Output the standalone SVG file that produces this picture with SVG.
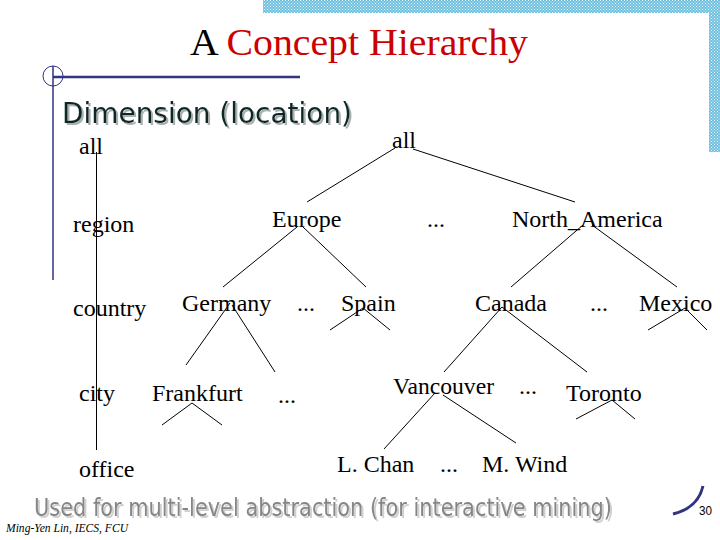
<svg xmlns="http://www.w3.org/2000/svg" width="720" height="540" viewBox="0 0 720 540">
<defs>
<pattern id="dots" width="3" height="3" patternUnits="userSpaceOnUse">
<rect width="3" height="3" fill="#6fc0df"/>
<rect x="0" y="0" width="1" height="1" fill="#e8f7fc"/>
<rect x="1.5" y="1.5" width="1" height="1" fill="#e8f7fc"/>
</pattern>
<filter id="shadowDark" x="-5%" y="-20%" width="115%" height="150%">
<feDropShadow dx="2" dy="2" stdDeviation="0.3" flood-color="#a8b0b0" flood-opacity="1"/>
</filter>
<filter id="shadowLight" x="-5%" y="-20%" width="115%" height="150%">
<feDropShadow dx="2" dy="2" stdDeviation="0.3" flood-color="#d0d0d0" flood-opacity="1"/>
</filter>
<style>
.t{font-family:"Liberation Serif","Times New Roman",serif;font-size:24px;fill:#000}
.e{stroke:#000;stroke-width:1;fill:none}
.nav{stroke:#333380;fill:none}
</style>
</defs>
<rect width="720" height="540" fill="#fff"/>
<g id="frame">
<rect x="263" y="0" width="457" height="13" fill="url(#dots)"/>
<rect x="709" y="0" width="11" height="152" fill="url(#dots)"/>
<line class="nav" x1="53" y1="77" x2="300" y2="77" stroke-width="2.5"/>
<line class="nav" x1="53" y1="66" x2="53" y2="280" stroke-width="1.5"/>
<circle class="nav" cx="53" cy="76" r="10" stroke-width="1"/>
<path class="nav" d="M673,514 Q698,508 703,486" stroke-width="3"/>
</g>
<g id="title">
<text x="190" y="55" font-family="'Liberation Serif','Times New Roman',serif" font-size="38" textLength="338" lengthAdjust="spacingAndGlyphs"><tspan fill="#000">A </tspan><tspan fill="#cc0000">Concept Hierarchy</tspan></text>
</g>
<g id="subtitle">
<text x="62" y="123" font-family="'DejaVu Sans',Verdana,sans-serif" font-size="28" fill="#102828" filter="url(#shadowDark)" textLength="290" lengthAdjust="spacingAndGlyphs">Dimension (location)</text>
</g>
<g id="connectors">
<line class="e" x1="96.5" y1="152" x2="96.5" y2="450"/>
<line class="e" x1="395" y1="148" x2="307" y2="202"/>
<line class="e" x1="413" y1="149" x2="575" y2="202"/>
<line class="e" x1="297" y1="227" x2="223" y2="287"/>
<line class="e" x1="302" y1="226" x2="366" y2="287"/>
<line class="e" x1="583" y1="225" x2="511" y2="287"/>
<line class="e" x1="592" y1="225" x2="677" y2="287"/>
<line class="e" x1="230" y1="303" x2="186" y2="365"/>
<line class="e" x1="232" y1="305" x2="275" y2="372"/>
<line class="e" x1="363" y1="308" x2="330" y2="330"/>
<line class="e" x1="363" y1="308" x2="390" y2="330"/>
<line class="e" x1="502" y1="307" x2="444" y2="372"/>
<line class="e" x1="502" y1="307" x2="587" y2="372"/>
<line class="e" x1="685" y1="308" x2="648" y2="330"/>
<line class="e" x1="685" y1="308" x2="707" y2="330"/>
<line class="e" x1="192" y1="403" x2="162" y2="425"/>
<line class="e" x1="192" y1="403" x2="222" y2="425"/>
<line class="e" x1="435" y1="393" x2="384" y2="449"/>
<line class="e" x1="443" y1="395" x2="516" y2="443"/>
<line class="e" x1="612" y1="400" x2="576" y2="419"/>
<line class="e" x1="612" y1="400" x2="635" y2="419"/>
</g>
<g id="levels">
<text class="t" x="79" y="154">all</text>
<text class="t" x="73" y="232">region</text>
<text class="t" x="73" y="316">country</text>
<text class="t" x="79" y="401">city</text>
<text class="t" x="79" y="477">office</text>
</g>
<g id="n-all"><text class="t" x="392" y="148">all</text></g>
<g id="n-europe"><text class="t" x="272" y="227">Europe</text></g>
<g id="n-dots1"><text class="t" x="427" y="227">...</text></g>
<g id="n-northamerica"><text class="t" x="512" y="227">North_America</text></g>
<g id="n-germany"><text class="t" x="182" y="311">Germany</text></g>
<g id="n-dots2"><text class="t" x="297" y="311">...</text></g>
<g id="n-spain"><text class="t" x="341" y="311">Spain</text></g>
<g id="n-canada"><text class="t" x="475" y="311">Canada</text></g>
<g id="n-dots3"><text class="t" x="590" y="311">...</text></g>
<g id="n-mexico"><text class="t" x="639" y="311">Mexico</text></g>
<g id="n-frankfurt"><text class="t" x="152" y="401">Frankfurt</text></g>
<g id="n-dots4"><text class="t" x="278" y="403">...</text></g>
<g id="n-vancouver"><text class="t" x="393" y="394" textLength="101" lengthAdjust="spacingAndGlyphs">Vancouver</text></g>
<g id="n-dots5"><text class="t" x="519" y="394">...</text></g>
<g id="n-toronto"><text class="t" x="566" y="401">Toronto</text></g>
<g id="n-lchan"><text class="t" x="337" y="472">L. Chan</text></g>
<g id="n-dots6"><text class="t" x="440" y="472">...</text></g>
<g id="n-mwind"><text class="t" x="482" y="472">M. Wind</text></g>
<g id="footer">
<text x="34" y="516" font-family="'DejaVu Sans',Verdana,sans-serif" font-size="24" fill="#868686" filter="url(#shadowLight)" textLength="578" lengthAdjust="spacingAndGlyphs">Used for multi-level abstraction (for interactive mining)</text>
<text x="6" y="532" font-family="'Liberation Serif','Times New Roman',serif" font-style="italic" font-size="12" fill="#000" textLength="122" lengthAdjust="spacingAndGlyphs">Ming-Yen Lin, IECS, FCU</text>
<text x="699" y="515" font-family="'Liberation Sans',Arial,sans-serif" font-size="12" fill="#000" textLength="13" lengthAdjust="spacingAndGlyphs">30</text>
</g>
</svg>
